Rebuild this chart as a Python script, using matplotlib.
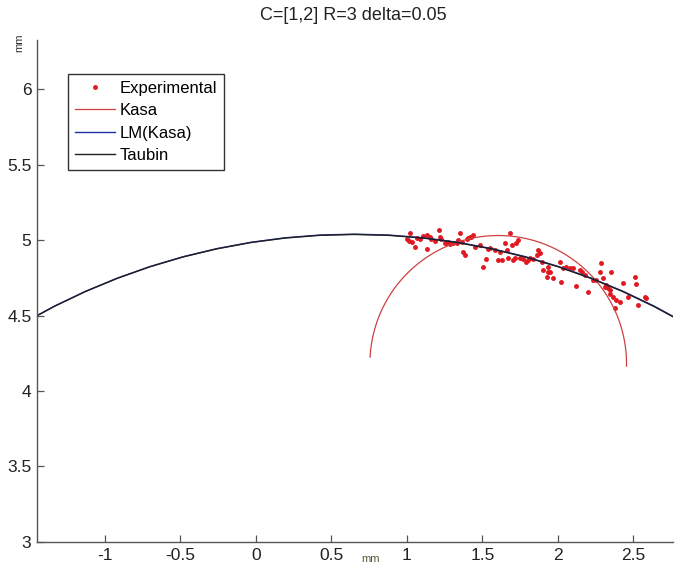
import numpy as np
import matplotlib.pyplot as plt

plt.rcParams['font.family'] = ['Liberation Sans', 'DejaVu Sans']

# measured points (mm)
exp_x = [1.020, 0.998, 1.015, 1.031, 1.053, 1.108, 1.130, 1.152, 1.163, 1.185,
         1.214, 1.218, 1.229, 1.130, 1.262, 1.285, 1.307, 1.329, 1.351, 1.362,
         1.373, 1.384, 1.395, 1.406, 1.417, 1.439, 1.450, 1.483, 1.505, 1.527,
         1.538, 1.583, 1.605, 1.616, 1.649, 1.660, 1.671, 1.682, 1.693, 1.704,
         1.726, 1.737, 1.748, 1.770, 1.792, 1.814, 1.836, 1.859, 1.870, 1.881,
         1.892, 1.903, 1.925, 1.936, 1.947, 1.969, 2.013, 2.024, 2.057, 2.079,
         2.101, 2.123, 2.146, 2.157, 2.201, 2.256, 2.278, 2.289, 2.300, 2.322,
         2.333, 2.344, 2.355, 2.366, 2.377, 2.388, 2.410, 2.433, 2.466, 2.510,
         2.516, 2.532, 2.576, 2.587, 1.064, 1.086, 1.251, 1.274, 1.340, 1.428,
         1.549, 1.627, 1.715, 1.803, 2.035, 2.179, 2.234, 2.311, 2.344, 1.936]
exp_y = [5.044, 5.005, 4.996, 4.989, 4.956, 5.027, 5.033, 5.022, 5.005, 4.996,
         5.066, 5.022, 5.005, 4.938, 4.982, 4.974, 4.978, 4.982, 5.044, 4.989,
         4.923, 4.901, 5.005, 5.011, 5.022, 5.033, 4.956, 4.967, 4.824, 4.872,
         4.938, 4.934, 4.868, 4.923, 4.978, 4.934, 4.879, 5.044, 4.967, 4.868,
         4.978, 5.000, 4.879, 4.872, 4.857, 4.879, 4.872, 4.901, 4.934, 4.912,
         4.857, 4.801, 4.757, 4.824, 4.790, 4.746, 4.857, 4.724, 4.824, 4.812,
         4.812, 4.695, 4.801, 4.790, 4.658, 4.735, 4.790, 4.846, 4.746, 4.702,
         4.680, 4.669, 4.790, 4.625, 4.548, 4.603, 4.592, 4.713, 4.625, 4.753,
         4.709, 4.570, 4.625, 4.614, 5.011, 5.005, 4.978, 4.989, 5.000, 5.018,
         4.945, 4.868, 4.879, 4.868, 4.812, 4.768, 4.735, 4.687, 4.642, 4.790]

# fitted circles: centre x, centre y, radius
kasa = (1.605, 4.18, 0.85)
lm_kasa = (0.652, 0.665, 4.374)
taubin = (0.650, 0.660, 4.377)

kasa_arc = (-1.0, 177.0)  # degrees

fig = plt.figure(figsize=(6.79, 5.69), dpi=100)
ax = fig.add_axes([0.0545, 0.0475, 0.9365, 0.8822])

ax.plot(exp_x, exp_y, '.', color='#e01820', markersize=5, label='Experimental')

t = np.radians(np.linspace(kasa_arc[0], kasa_arc[1], 200))
ax.plot(kasa[0] + kasa[2] * np.cos(t), kasa[1] + kasa[2] * np.sin(t),
        color='#d04040', lw=0.9, label='Kasa')

t = np.linspace(0, 2 * np.pi, 121)
ax.plot(lm_kasa[0] + lm_kasa[2] * np.cos(t), lm_kasa[1] + lm_kasa[2] * np.sin(t),
        color='#2030a0', lw=1.0, label='LM(Kasa)')
ax.plot(taubin[0] + taubin[2] * np.cos(t), taubin[1] + taubin[2] * np.sin(t),
        color='#202020', lw=1.0, label='Taubin')

ax.set_xlim(-1.45, 2.762)
ax.set_ylim(3, 6.325)
ax.set_xticks([-1, -0.5, 0, 0.5, 1, 1.5, 2, 2.5])
ax.set_xticklabels(['-1', '-0.5', '0', '0.5', '1', '1.5', '2', '2.5'])
ax.set_yticks([3, 3.5, 4, 4.5, 5, 5.5, 6])
ax.set_yticklabels(['3', '3.5', '4', '4.5', '5', '5.5', '6'])

for s in ('top', 'right'):
    ax.spines[s].set_visible(False)
for s in ('left', 'bottom'):
    ax.spines[s].set_color('#555555')
    ax.spines[s].set_linewidth(1.0)
ax.tick_params(direction='in', length=5, width=0.9, color='#555555',
               labelsize=12.5, labelcolor='#222222', pad=4)

fig.text(0.52, 0.973, 'C=[1,2] R=3 delta=0.05', fontsize=13, color='#222222',
         ha='center', va='center')

fig.text(0.545, 0.012, 'mm', fontsize=8, color='#5a5a3a', ha='center')
fig.text(0.028, 0.925, 'mm', fontsize=8, color='#333333', rotation=90,
         ha='center', va='center')

leg = ax.legend(loc='upper left', bbox_to_anchor=(0.100, 0.870),
                bbox_transform=fig.transFigure, borderaxespad=0,
                fontsize=12, fancybox=False, edgecolor='#333333',
                framealpha=1, handlelength=2.4, handletextpad=0.3,
                labelspacing=0.45, borderpad=0.4, markerscale=1.0)
leg.get_frame().set_linewidth(1.0)

fig.savefig('out.png', dpi=100)
